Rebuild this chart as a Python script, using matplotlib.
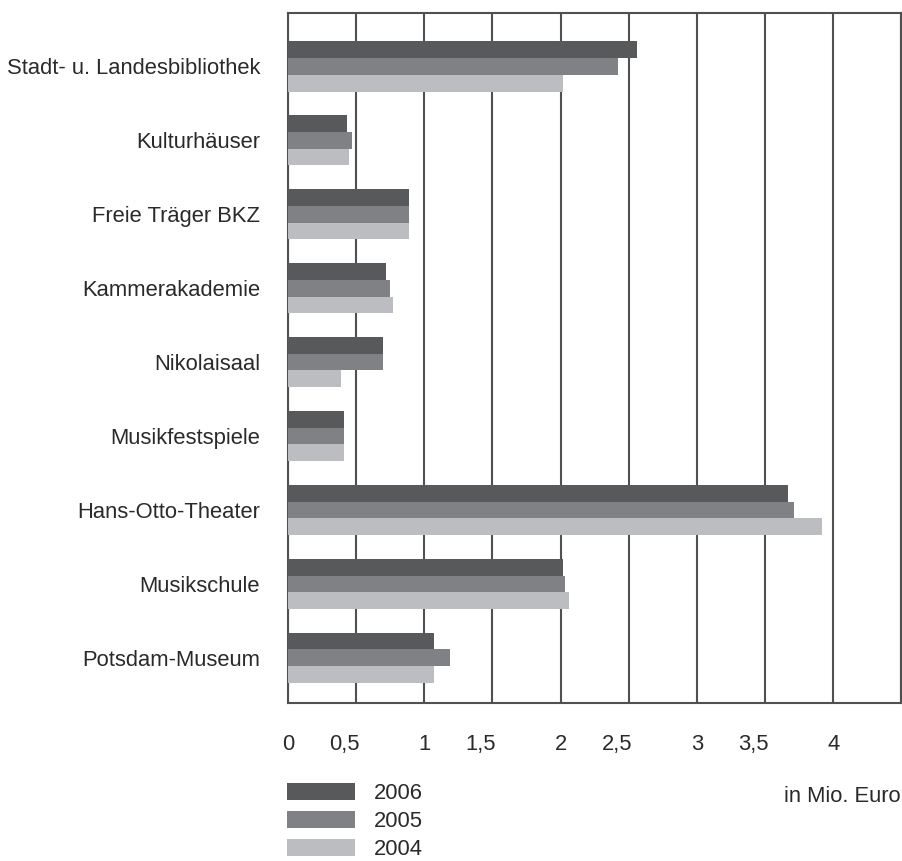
import matplotlib
matplotlib.use("Agg")
import matplotlib.pyplot as plt
import matplotlib.transforms as mtransforms
from matplotlib.patches import Patch
import numpy as np

# Ausgaben Kultur, in Mio. Euro
categories = ["Stadt- u. Landesbibliothek", "Kulturhäuser", "Freie Träger BKZ",
              "Kammerakademie", "Nikolaisaal", "Musikfestspiele",
              "Hans-Otto-Theater", "Musikschule", "Potsdam-Museum"]
years = ["2006", "2005", "2004"]
v2006 = [2.56, 0.43, 0.89, 0.72, 0.70, 0.41, 3.67, 2.02, 1.07]
v2005 = [2.42, 0.47, 0.89, 0.75, 0.70, 0.41, 3.71, 2.03, 1.19]
v2004 = [2.02, 0.45, 0.89, 0.77, 0.39, 0.41, 3.92, 2.06, 1.07]
xticks = [0, 0.5, 1, 1.5, 2, 2.5, 3, 3.5, 4, 4.5]
xticklabels = ["0", "0,5", "1", "1,5", "2", "2,5", "3", "3,5", "4", ""]
colors = ["#58595b", "#808184", "#bcbdc0"]

plt.rcParams['font.family'] = ['Liberation Sans', 'DejaVu Sans']
fs = 15.8
tc = '#2a2a2a'

fig = plt.figure(figsize=(9.03, 8.61), dpi=100)
ax = fig.add_axes([288 / 903, 1 - 703 / 861, (901.5 - 288) / 903, (703 - 13) / 861])

y = np.arange(len(categories))
h = 0.228
for i, vals in enumerate([v2006, v2005, v2004]):
    ax.barh(y - h + i * h, vals, height=h, color=colors[i], zorder=3, linewidth=0)

ax.set_xlim(0, 4.5)
ax.set_ylim(8.61, -0.72)
ax.set_xticks(xticks)
ax.set_xticklabels(xticklabels, fontsize=fs)
ax.grid(True, axis='x', color='#505050', linewidth=1.5, zorder=1)
ax.set_axisbelow(True)
ax.tick_params(axis='x', length=0, pad=22, colors=tc, labelsize=fs)
# half-value labels sit to the left of their gridline
for lbl, t in zip(ax.get_xticklabels(), xticks):
    if t % 1:
        lbl.set_transform(lbl.get_transform() + mtransforms.ScaledTranslation(-12 / 100, 0, fig.dpi_scale_trans))

ax.set_yticks(y)
ax.set_yticklabels(categories, fontsize=fs)
ax.tick_params(axis='y', length=0, pad=20, colors=tc, labelsize=fs)

for s in ax.spines.values():
    s.set_color('#505050')
    s.set_linewidth(1.5)

handles = [Patch(facecolor=c, edgecolor='none') for c in colors]
fig.legend(handles, years, loc='upper left', bbox_to_anchor=(287 / 903, 1 - 783 / 861),
           frameon=False, fontsize=fs, handlelength=3.1, handleheight=0.77,
           handletextpad=0.85, labelspacing=0.32, borderpad=0, borderaxespad=0,
           labelcolor=tc)
fig.text(901 / 903, 1 - 796 / 861, "in Mio. Euro", ha='right', va='center',
         fontsize=fs, color=tc)

fig.savefig("out.png", dpi=100)
